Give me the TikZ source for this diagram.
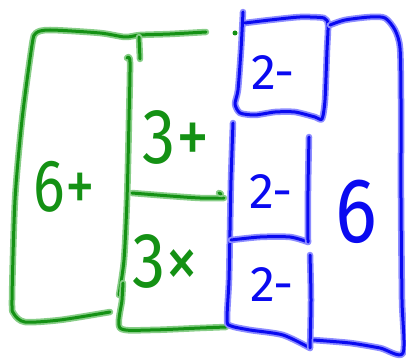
\documentclass[tikz,border=0pt]{standalone}
\usepackage{fontspec}
\setmainfont{Fira Sans}
\definecolor{gcore}{RGB}{20,145,20}
\definecolor{ghalo}{RGB}{135,205,135}
\definecolor{bcore}{RGB}{10,10,240}
\definecolor{bhalo}{RGB}{140,140,255}
\tikzset{
  gline/.style={draw=gcore, line width=3pt, line cap=round, line join=round,
    preaction={draw=ghalo, line width=6.5pt, line cap=round, line join=round}},
  bline/.style={draw=bcore, line width=3pt, line cap=round, line join=round,
    preaction={draw=bhalo, line width=6.5pt, line cap=round, line join=round}},
  glabel/.style={text=gcore, inner sep=0pt},
  blabel/.style={text=bcore, inner sep=0pt},
}
\begin{document}
\begin{tikzpicture}[x=1pt,y=-1pt]
\useasboundingbox (0,0) rectangle (406,363);
% green strokes
\draw[gline] plot[smooth,tension=0.45] coordinates {(110,312) (60,320) (25,322) (14,314) (12,300) (15,200) (22,120) (32,45) (36,33) (50,30) (100,33) (125,37) (140,35) (170,34) (206,32)};
\draw[gline] (139,37) -- (140,59);
\draw[gline] plot[smooth,tension=0.45] coordinates {(127,58) (130,62) (129,120) (127,200) (124,260) (119,295)};
\draw[gline] plot[smooth,tension=0.45] coordinates {(123,283) (122,300) (120,328) (150,330) (200,328) (226,327)};
\draw[gline] plot[smooth,tension=0.45] coordinates {(132,193) (170,196) (200,198) (224,198)};
\draw[gline] (219,193) -- (221,194);
\fill[gcore] (235,33) circle (2.5);
% blue strokes
\draw[bline] plot[smooth,tension=0.4] coordinates {(243,12) (241,50) (238,90) (235,104) (240,113) (255,115) (275,112) (295,112) (315,117) (322,119) (325,100) (327,50) (328,25) (324,18) (300,17) (270,20) (245,23)};
\draw[bline] plot[smooth,tension=0.45] coordinates {(330,25) (345,20) (370,17) (385,18) (395,30) (400,48) (401,100) (401,200) (402,300) (403,353) (380,348) (350,343) (313,340)};
\draw[bline] plot[smooth,tension=0.45] coordinates {(233,123) (231,180) (230,230) (229,280) (227,320) (231,326) (250,330) (283,335) (310,348)};
\draw[bline] plot[smooth,tension=0.45] coordinates {(231,240) (260,237) (290,237) (308,242)};
\draw[bline] plot[smooth,tension=0.45] coordinates {(309,137) (308,190) (308,242)};
\draw[bline] plot[smooth,tension=0.45] coordinates {(310,255) (311,300) (310,348)};
% labels
\node[glabel, xscale=0.8] (l6) at (64,187) {\fontsize{74}{74}\selectfont 6+};
\node[glabel, xscale=0.85] (l3a) at (176,137) {\fontsize{78}{78}\selectfont 3+};
\node[glabel, xscale=0.85] (l3b) at (166,261) {\fontsize{78}{78}\selectfont 3×};
\node[blabel] (l2a) at (273,73) {\fontsize{50}{50}\selectfont 2-};
\node[blabel] (l2b) at (271,192) {\fontsize{50}{50}\selectfont 2-};
\node[blabel] (l2c) at (272,285) {\fontsize{50}{50}\selectfont 2-};
\node[blabel, xscale=0.85] (l6b) at (356,212) {\fontsize{92}{92}\selectfont 6};
\end{tikzpicture}
\end{document}
